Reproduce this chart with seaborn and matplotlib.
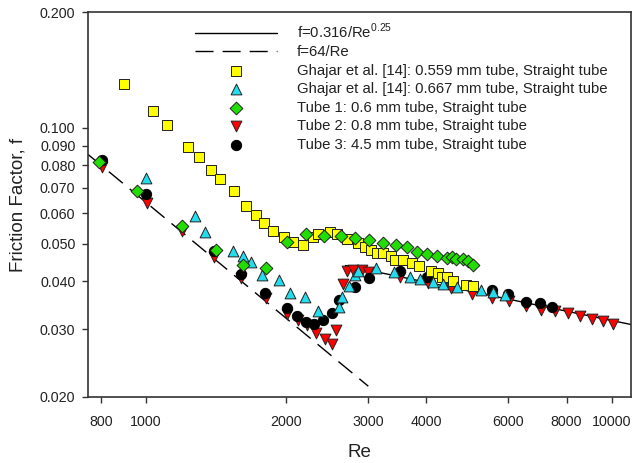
import numpy as np
import pandas as pd
import matplotlib
matplotlib.use('Agg')
import matplotlib.pyplot as plt
from matplotlib.ticker import FixedLocator, NullLocator, FixedFormatter
import seaborn as sns

#------Data

# Ghajar et al. [14]: 0.559 mm tube
re_g559 = [897, 1035, 1109, 1231, 1299, 1379, 1441, 1545, 1639, 1722, 1791, 1873, 1978,
           2068, 2172, 2282, 2339, 2482, 2570, 2700, 2850, 2951, 3040, 3131, 3226, 3356,
           3422, 3560, 3722, 3853, 4089, 4233, 4318, 4426, 4559, 4861, 5031]
f_g559 = [0.1301, 0.1107, 0.1018, 0.0893, 0.0841, 0.0778, 0.0737, 0.0686, 0.0627, 0.0594,
          0.0567, 0.0540, 0.0521, 0.0506, 0.0497, 0.0521, 0.0530, 0.0537, 0.0530, 0.0515,
          0.0503, 0.0491, 0.0482, 0.0473, 0.0473, 0.0465, 0.0454, 0.0454, 0.0446, 0.0438,
          0.0425, 0.0420, 0.0410, 0.0410, 0.0400, 0.0391, 0.0389]

# Ghajar et al. [14]: 0.667 mm tube
re_g667 = [998, 1274, 1339, 1537, 1615, 1680, 1774, 1930, 2037, 2194, 2339, 2595, 2634,
           2727, 2808, 2850, 3115, 3405, 3686, 3873, 4130, 4339, 4650, 5235, 5555, 5893]
f_g667 = [0.0742, 0.0591, 0.0537, 0.0479, 0.0465, 0.0449, 0.0415, 0.0403, 0.0373, 0.0364,
          0.0335, 0.0343, 0.0364, 0.0389, 0.0415, 0.0425, 0.0433, 0.0423, 0.0410, 0.0405,
          0.0398, 0.0393, 0.0386, 0.0380, 0.0375, 0.0368]

# Tube 1: 0.6 mm
re_t1 = [793, 956, 1195, 1413, 1615, 1809, 2007, 2204, 2410, 2621, 2808, 3010, 3226, 3440,
         3632, 3815, 4009, 4212, 4426, 4536, 4627, 4790, 4909, 5031]
f_t1 = [0.0816, 0.0686, 0.0556, 0.0482, 0.0441, 0.0433, 0.0506, 0.0530, 0.0524, 0.0524,
        0.0518, 0.0512, 0.0503, 0.0497, 0.0491, 0.0476, 0.0471, 0.0465, 0.0459, 0.0462,
        0.0457, 0.0457, 0.0451, 0.0441]

# Tube 2: 0.8 mm
re_t2 = [805, 1005, 1195, 1399, 1599, 1809, 2007, 2119, 2215, 2316, 2422, 2507, 2557, 2647,
         2700, 2781, 2907, 2995, 3508, 4029, 4513, 5006, 5528, 6012, 6541, 7041, 7545, 8046,
         8538, 9059, 9566, 10050]
f_t2 = [0.0792, 0.0639, 0.0540, 0.0462, 0.0408, 0.0362, 0.0329, 0.0317, 0.0308, 0.0293,
        0.0283, 0.0275, 0.0299, 0.0393, 0.0425, 0.0428, 0.0428, 0.0423, 0.0410, 0.0396,
        0.0384, 0.0371, 0.0362, 0.0355, 0.0345, 0.0337, 0.0335, 0.0331, 0.0325, 0.0319,
        0.0315, 0.0310]

# Tube 3: 4.5 mm
re_t3 = [805, 1000, 1399, 1599, 1800, 2007, 2109, 2204, 2293, 2398, 2507, 2595, 2808, 3010,
         3508, 4009, 5528, 5980, 6541, 7007, 7431]
f_t3 = [0.0826, 0.0674, 0.0479, 0.0418, 0.0373, 0.0341, 0.0325, 0.0313, 0.0310, 0.0317,
        0.0331, 0.0357, 0.0386, 0.0408, 0.0425, 0.0410, 0.0380, 0.0371, 0.0353, 0.0351, 0.0343]

# correlation line ranges
re_blasius = np.geomspace(2680, 11000, 60)
re_lam = np.geomspace(750, 3000, 60)

x_ticks = [800, 1000, 2000, 3000, 4000, 6000, 8000, 10000]
y_ticks = [0.02, 0.03, 0.04, 0.05, 0.06, 0.07, 0.08, 0.09, 0.1, 0.2]

#-------Settings

sns.set_theme(style="ticks")
plt.rcParams['font.family'] = ['Liberation Sans', 'DejaVu Sans']
plt.rcParams['mathtext.fontset'] = 'custom'
plt.rcParams['mathtext.rm'] = 'Liberation Sans'

fig = plt.figure(figsize=(6.32, 4.63), dpi=100)
ax = fig.add_axes([88/632, 1 - 397/463, 543/632, 385/463])
ax.set_xscale('log')
ax.set_yscale('log')

#------Lines

sns.lineplot(x=re_blasius, y=0.316 / re_blasius**0.25, ax=ax, color='black', lw=1,
             label='f=0.316/Re$^{\\mathregular{0.25}}$', zorder=2)
sns.lineplot(x=re_lam, y=64 / re_lam, ax=ax, color='black', lw=1,
             label='f=64/Re', zorder=2)
ax.lines[-1].set_dashes((13, 6.5))

#------Points

edge = '#222222'
sns.scatterplot(x=re_t2, y=f_t2, ax=ax, marker='v', s=60, color='#ff0000', edgecolor=edge,
                linewidth=0.7, zorder=3, label='Tube 2: 0.8 mm tube, Straight tube')
sns.scatterplot(x=re_t3, y=f_t3, ax=ax, marker='o', s=55, color='black', edgecolor='black',
                linewidth=0.7, zorder=4, label='Tube 3: 4.5 mm tube, Straight tube')
sns.scatterplot(x=re_g559, y=f_g559, ax=ax, marker='s', s=50, color='#ffff00', edgecolor=edge,
                linewidth=0.7, zorder=5, label='Ghajar et al. [14]: 0.559 mm tube, Straight tube')
sns.scatterplot(x=re_g667, y=f_g667, ax=ax, marker='^', s=60, color='#22ddee', edgecolor=edge,
                linewidth=0.7, zorder=5, label='Ghajar et al. [14]: 0.667 mm tube, Straight tube')
sns.scatterplot(x=re_t1, y=f_t1, ax=ax, marker='D', s=42, color='#22dd00', edgecolor=edge,
                linewidth=0.7, zorder=6, label='Tube 1: 0.6 mm tube, Straight tube')

#------Axes

ax.set_xlim(750, 11000)
ax.set_ylim(0.02, 0.2)
ax.xaxis.set_major_locator(FixedLocator(x_ticks))
ax.xaxis.set_major_formatter(FixedFormatter([str(v) for v in x_ticks]))
ax.xaxis.set_minor_locator(NullLocator())
ax.yaxis.set_major_locator(FixedLocator(y_ticks))
ax.yaxis.set_major_formatter(FixedFormatter([f'{v:.3f}' for v in y_ticks]))
ax.yaxis.set_minor_locator(NullLocator())
ax.tick_params(axis='both', direction='out', length=4, width=1, colors='#333333',
               labelsize=10.3, labelcolor='#222222')
ax.tick_params(axis='x', pad=9)
ax.tick_params(axis='y', pad=5)
for s in ax.spines.values():
    s.set_color('#333333')
    s.set_linewidth(1.2)
ax.set_xlabel('Re', fontsize=13.5, color='#222222', labelpad=11)
ax.set_ylabel('Friction Factor, f', fontsize=13.5, color='#222222', labelpad=10)

#------Legend

order = ['f=0.316/Re$^{\\mathregular{0.25}}$', 'f=64/Re',
         'Ghajar et al. [14]: 0.559 mm tube, Straight tube',
         'Ghajar et al. [14]: 0.667 mm tube, Straight tube',
         'Tube 1: 0.6 mm tube, Straight tube',
         'Tube 2: 0.8 mm tube, Straight tube',
         'Tube 3: 4.5 mm tube, Straight tube']
handles, labels = ax.get_legend_handles_labels()
hmap = dict(zip(labels, handles))
ax.legend([hmap[l] for l in order], order, loc='upper left', bbox_to_anchor=(0.197, 0.975),
          frameon=False, fontsize=10.7, handlelength=5.5, handletextpad=1.35,
          labelspacing=0.3, borderpad=0, borderaxespad=0, labelcolor='#222222')

plt.savefig('out.png', dpi=100)
plt.close()
